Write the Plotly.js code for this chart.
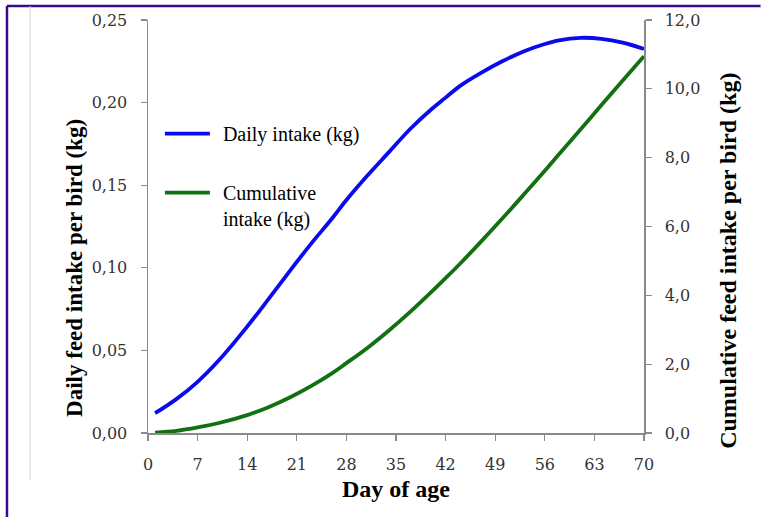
<!DOCTYPE html>
<html>
<head>
<meta charset="utf-8">
<script src="https://cdn.plot.ly/plotly-3.0.1.min.js"></script>
<style>
html,body{margin:0;padding:0;background:#fff;}
#chart{width:780px;height:517px;}
</style>
</head>
<body>
<div id="chart"></div>
<script>
// Day of age at which values were read
var days = [1, 4, 7, 10, 14, 17, 20, 23, 26, 28, 31, 34, 37, 40, 42, 44, 47, 50, 53, 56, 58, 61, 64, 67, 70];
// Daily feed intake per bird (kg) - left axis
var dailyIntake = [0.012, 0.0205, 0.031, 0.044, 0.0644, 0.081, 0.098, 0.1145, 0.130, 0.141, 0.156, 0.170, 0.184, 0.196, 0.203, 0.210, 0.218, 0.225, 0.231, 0.2355, 0.2377, 0.2392, 0.2386, 0.2363, 0.2325];
// Cumulative feed intake per bird (kg) - right axis
var cumulativeIntake = [0.01, 0.06, 0.16, 0.29, 0.52, 0.75, 1.03, 1.36, 1.74, 2.03, 2.48, 2.98, 3.52, 4.10, 4.50, 4.91, 5.56, 6.23, 6.92, 7.62, 8.10, 8.81, 9.53, 10.24, 10.95];

var xTicks = [0, 7, 14, 21, 28, 35, 42, 49, 56, 63, 70];
var leftTicks = [0, 0.05, 0.10, 0.15, 0.20, 0.25];
var rightTicks = [0, 2, 4, 6, 8, 10, 12];

var seriesNames = ['Daily intake (kg)', 'Cumulative<br>intake (kg)'];
var xTitle = 'Day of age';
var leftTitle = 'Daily feed intake per bird (kg)';
var rightTitle = 'Cumulative feed intake per bird (kg)';

var axisColor = '#8a8a8a';
var tickFont = {family: 'DejaVu Serif', size: 16, color: '#333333'};
var gap = '\u2009\u2009';

var traces = [
  {
    x: days, y: dailyIntake, name: gap + seriesNames[0], type: 'scatter', mode: 'lines',
    line: {color: '#0a0aef', width: 3.8, shape: 'spline', smoothing: 1},
    yaxis: 'y', legendgroup: 'a'
  },
  {
    x: days, y: cumulativeIntake, name: seriesNames[1].split('<br>').map(function (s) { return gap + s; }).join('<br>'),
    type: 'scatter', mode: 'lines',
    line: {color: '#127012', width: 3.8, shape: 'spline', smoothing: 1},
    yaxis: 'y2', legendgroup: 'b'
  }
];

var layout = {
  width: 780, height: 517,
  margin: {l: 148, r: 136, t: 20, b: 84},
  paper_bgcolor: '#ffffff', plot_bgcolor: '#ffffff',
  separators: ',.',
  showlegend: true,
  legend: {
    x: 0.024, y: 0.772, xanchor: 'left', yanchor: 'top',
    bgcolor: 'rgba(0,0,0,0)',
    font: {family: 'Liberation Serif', size: 20, color: '#000000'},
    itemwidth: 45, valign: 'top',
    traceorder: 'grouped', tracegroupgap: 30
  },
  xaxis: {
    range: [0, 70], tickvals: xTicks, ticktext: xTicks.map(String),
    showgrid: false, zeroline: false, showline: true, linecolor: axisColor, linewidth: 1.5,
    ticks: 'outside', ticklen: 6, tickcolor: axisColor, tickwidth: 1.2,
    tickfont: tickFont, ticklabelstandoff: 10,
    title: {text: '<b>' + xTitle + '</b>', font: {family: 'Liberation Serif', size: 24, color: '#000000'}, standoff: 7}
  },
  yaxis: {
    range: [0, 0.25], tickvals: leftTicks, tickformat: '.2f',
    showgrid: false, zeroline: false, showline: true, linecolor: axisColor, linewidth: 1.5,
    ticks: 'outside', ticklen: 6, tickcolor: axisColor, tickwidth: 1.2,
    tickfont: tickFont, ticklabelstandoff: 10
  },
  yaxis2: {
    range: [0, 12], tickvals: rightTicks, tickformat: '.1f',
    overlaying: 'y', side: 'right',
    showgrid: false, zeroline: false, showline: true, linecolor: axisColor, linewidth: 1.5,
    ticks: 'outside', ticklen: 6, tickcolor: axisColor, tickwidth: 1.2,
    tickfont: tickFont, ticklabelstandoff: 10
  },
  annotations: [
    {text: '<b>' + leftTitle + '</b>', xref: 'paper', yref: 'paper', x: -0.147, y: 0.40,
     xanchor: 'center', yanchor: 'middle', textangle: -90, showarrow: false,
     font: {family: 'Liberation Serif', size: 23, color: '#000000'}},
    {text: '<b>' + rightTitle + '</b>', xref: 'paper', yref: 'paper', x: 1.169, y: 0.4165,
     xanchor: 'center', yanchor: 'middle', textangle: -90, showarrow: false,
     font: {family: 'Liberation Serif', size: 24, color: '#000000'}}
  ],
  shapes: [
    {type: 'line', xref: 'paper', yref: 'paper', x0: -0.2843, x1: 1.235, y0: 1.0339, y1: 1.0339,
     line: {color: '#3a0a8c', width: 2.5}},
    {type: 'line', xref: 'paper', yref: 'paper', x0: -0.2843, x1: -0.2843, y0: 1.0339, y1: -0.21,
     line: {color: '#3a0a8c', width: 2.5}},
    {type: 'line', xref: 'paper', yref: 'paper', x0: -0.2379, x1: -0.2379, y0: 1.0339, y1: -0.115,
     line: {color: '#d8d8d8', width: 1}}
  ]
};

Plotly.newPlot('chart', traces, layout, {displayModeBar: false, staticPlot: true});
</script>
</body>
</html>
